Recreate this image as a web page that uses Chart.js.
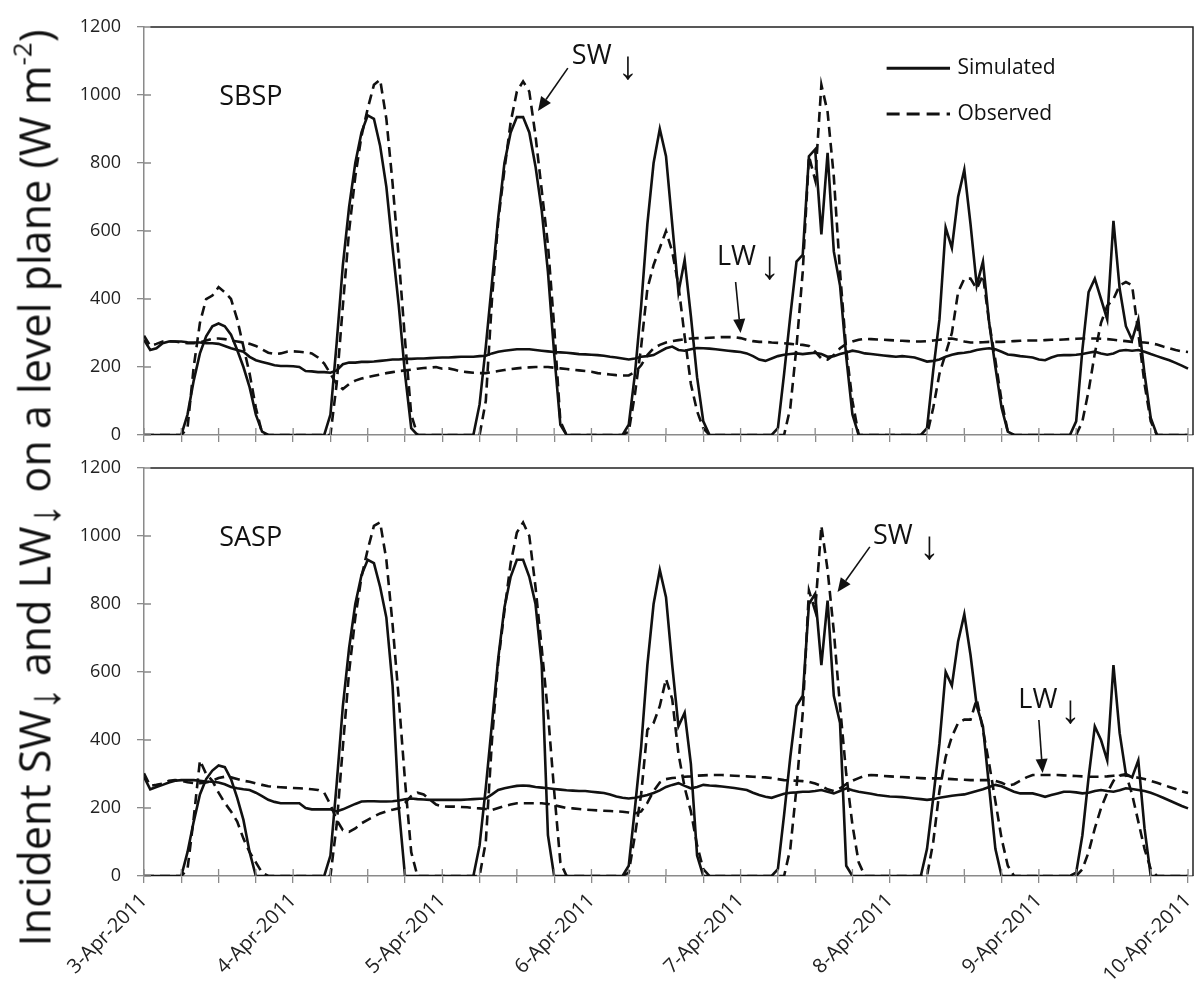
<!DOCTYPE html>
<html>
<head>
<meta charset="utf-8">
<script src="https://cdn.jsdelivr.net/npm/chart.js@4.4.1/dist/chart.umd.min.js"></script>
<style>
  html, body { margin: 0; padding: 0; background: #fff; }
  #wrap { position: relative; width: 1200px; height: 998px; overflow: hidden; }
  canvas { position: absolute; left: 0; }
  #ytitle { position: absolute; left: 34px; top: 488px; transform: translate(-50%, -50%) rotate(-90deg);
            white-space: nowrap; font-family: 'Open Sans', sans-serif; font-size: 43px; color: #111; line-height: 1; }
  #ytitle sub { font-family: 'Liberation Sans', sans-serif; font-size: 1.05em; vertical-align: -0.2em; line-height: 0; }
  #ytitle sup { font-size: 0.6em; vertical-align: 0.75em; line-height: 0; }
</style>
</head>
<body>
<div id="wrap">
  <canvas id="topChart" width="1200" height="443" style="top:0"></canvas>
  <canvas id="botChart" width="1200" height="550" style="top:448px"></canvas>
  <div id="ytitle">Incident SW<sub>↓</sub> and LW<sub>↓</sub> on a level plane (W m<sup>-2</sup>)</div>
</div>
<script>
//date labels, one per day (every 24 h on the x axis)
const dates = ['3-Apr-2011','4-Apr-2011','5-Apr-2011','6-Apr-2011','7-Apr-2011','8-Apr-2011','9-Apr-2011','10-Apr-2011'];

//------------------------------------------
//SBSP (top panel), hourly values from 3-Apr 00:00
const sbspSimSW = [
  0,0,0,0,0,0,0,60,160,240,290,320,328,320,295,250,200,140,60,10,0,0,0,0,
  0,0,0,0,0,0,60,270,500,670,800,890,940,930,850,730,550,380,180,20,0,0,0,0,
  0,0,0,0,0,0,90,260,450,640,800,890,935,935,890,790,660,480,240,30,0,0,0,0,
  0,0,0,0,0,0,30,180,380,620,800,900,820,620,420,515,350,170,40,0,0,0,0,0,
  0,0,0,0,0,0,20,180,350,510,530,820,840,590,830,540,440,230,60,0,0,0,0,0,
  0,0,0,0,0,0,20,190,340,610,550,700,780,620,440,510,330,200,80,10,0,0,0,0,
  0,0,0,0,0,0,40,250,420,460,400,340,630,430,320,280,340,180,50,0,0,0,0,0,0
];
const sbspObsSW = [
  0,0,0,0,0,0,0,20,200,330,400,410,435,420,400,340,260,180,80,5,0,0,0,0,
  0,0,0,0,0,0,0,150,380,600,760,880,960,1030,1045,930,740,520,280,60,0,0,0,0,
  0,0,0,0,0,0,0,100,400,630,780,920,1010,1040,1010,880,720,560,320,40,0,0,0,0,
  0,0,0,0,0,0,10,120,260,430,500,550,600,540,440,290,150,70,20,0,0,0,0,0,
  0,0,0,0,0,0,0,0,80,260,480,820,750,1030,950,760,480,250,100,0,0,0,0,0,
  0,0,0,0,0,0,0,80,180,240,300,420,460,460,430,470,330,220,100,10,0,0,0,0,
  0,0,0,0,0,0,0,40,130,240,330,380,400,440,450,440,300,150,40,0,0,0,0,0,0
];
const sbspSimLW = [
  280,250,255,270,275,275,275,273,272,272,270,270,268,262,255,250,245,230,220,215,210,205,203,203,
  202,200,188,187,185,185,183,190,208,213,213,215,215,216,218,220,222,222,224,224,225,225,226,227,
  228,228,229,230,230,230,232,233,240,245,248,250,252,252,252,250,248,246,244,243,242,240,238,237,
  236,235,233,230,228,225,222,225,230,232,235,245,255,260,250,248,252,256,255,254,252,250,248,246,
  244,240,232,222,218,225,232,236,238,240,238,240,242,238,230,232,238,243,248,245,240,238,236,234,
  232,230,232,230,228,222,216,218,222,230,236,240,242,245,250,253,255,252,245,237,235,232,230,228,
  222,220,228,234,235,235,236,238,242,245,240,236,240,248,250,248,250,245,238,232,226,220,212,204,195
];
const sbspObsLW = [
  292,262,268,275,276,275,272,270,270,272,278,283,284,282,278,275,272,268,262,252,242,238,240,245,
  246,245,243,240,228,210,180,150,135,150,160,166,170,174,178,182,185,188,190,192,195,197,198,200,
  195,196,192,187,185,183,182,182,185,188,191,194,196,198,199,200,200,200,198,196,194,192,190,188,
  186,182,180,178,176,175,175,185,205,235,255,265,272,276,279,282,284,285,285,286,287,288,288,288,
  285,280,276,274,274,272,271,270,268,266,265,262,245,225,222,235,255,268,275,280,283,282,281,280,
  279,278,277,276,275,275,276,278,280,283,284,280,275,272,272,273,274,274,274,275,276,277,278,278,
  278,279,280,280,281,282,283,284,284,284,283,282,280,278,276,274,273,272,270,266,260,255,250,246,244
];

//SASP (bottom panel)
const saspSimSW = [
  0,0,0,0,0,0,0,70,160,240,285,310,325,320,285,230,165,70,0,0,0,0,0,0,
  0,0,0,0,0,0,60,270,500,670,800,885,930,920,850,760,560,200,0,0,0,0,0,0,
  0,0,0,0,0,0,90,260,450,640,790,880,930,930,880,800,620,120,0,0,0,0,0,0,
  0,0,0,0,0,0,30,200,380,620,800,900,820,620,440,480,330,60,0,0,0,0,0,0,
  0,0,0,0,0,0,20,180,350,500,530,800,830,620,810,530,450,30,0,0,0,0,0,0,
  0,0,0,0,0,0,80,230,390,600,560,690,770,650,500,440,260,80,0,0,0,0,0,0,
  0,0,0,0,0,0,10,120,290,440,400,340,620,420,300,290,340,140,0,0,0,0,0,0,0
];
const saspObsSW = [
  0,0,0,0,0,0,0,20,170,340,300,280,245,215,190,160,110,70,40,10,0,0,0,0,
  0,0,0,0,0,0,0,150,380,600,760,880,960,1030,1040,930,740,520,280,70,0,0,0,0,
  0,0,0,0,0,0,0,100,400,630,780,920,1010,1040,1000,850,670,480,250,40,0,0,0,0,
  0,0,0,0,0,0,10,120,240,430,450,500,580,520,360,260,190,90,20,0,0,0,0,0,
  0,0,0,0,0,0,0,0,80,260,480,840,780,1030,900,720,500,300,150,40,0,0,0,0,
  0,0,0,0,0,0,0,100,250,350,410,450,460,460,520,430,330,220,110,30,0,0,0,0,
  0,0,0,0,0,0,0,20,70,140,200,245,280,295,300,240,160,80,20,0,0,0,0,0,0
];
const saspSimLW = [
  292,255,262,268,275,280,282,282,282,280,278,277,275,270,262,258,255,253,245,235,224,218,214,214,
  214,214,200,196,196,196,196,190,196,204,212,219,220,220,219,219,220,222,226,228,226,225,224,224,
  224,224,224,224,225,226,227,228,240,253,258,262,265,266,265,262,260,258,256,254,252,251,250,250,
  248,246,244,240,234,230,228,230,234,238,244,252,262,268,273,265,258,262,268,266,265,263,261,259,
  256,253,245,238,233,230,236,242,245,246,248,248,250,253,248,243,250,258,252,248,245,242,238,236,
  234,233,232,230,228,226,224,226,230,233,236,238,240,245,250,255,262,268,264,256,248,243,243,243,
  238,233,238,243,248,248,246,243,245,250,253,250,248,252,258,256,253,250,245,238,230,222,214,206,199
];
const saspObsLW = [
  302,265,268,272,280,282,280,276,273,273,275,280,288,292,290,285,280,277,272,268,264,262,261,260,
  259,258,257,255,253,245,210,165,135,130,140,155,165,175,184,190,195,199,215,235,245,240,225,210,
  205,204,204,203,202,200,199,197,194,200,206,210,214,214,214,214,214,212,208,204,200,199,197,195,
  194,193,192,191,190,189,187,184,190,215,250,275,285,288,290,292,293,295,296,297,297,297,296,295,
  294,293,292,291,290,288,285,282,281,280,279,277,272,265,255,250,258,270,280,288,295,297,296,294,
  293,292,291,290,289,288,287,287,287,286,285,284,283,282,282,282,282,280,274,266,270,280,290,297,
  297,297,297,297,296,295,294,293,292,292,292,293,295,297,296,292,289,285,280,274,268,262,256,249,244
];

//hour index (0 = 3-Apr 00:00)
const hours = sbspSimSW.map((v, i) => i);

//------------------------------------------
const FONT = "'Open Sans', sans-serif";
const INK = '#111';
const AXIS = '#8a8a8a';

function pts(vals) {
  return vals.map((v, i) => ({x: hours[i], y: v}));
}

function lines(simSW, obsSW, simLW, obsLW) {
  const solid = {borderColor: INK, borderWidth: 2.6, pointRadius: 0, fill: false, tension: 0};
  const dash = Object.assign({}, solid, {borderDash: [10, 6]});
  return [
    Object.assign({label: 'Simulated SW', data: pts(simSW)}, solid),
    Object.assign({label: 'Observed SW', data: pts(obsSW)}, dash),
    Object.assign({label: 'Simulated LW', data: pts(simLW)}, solid),
    Object.assign({label: 'Observed LW', data: pts(obsLW)}, dash)
  ];
}

//plugin for frame, inner tick halves, labels, arrows and the legend
const notes = {
  id: 'notes',
  afterDraw(chart, args, opts) {
    const {ctx, chartArea: a, scales: {x, y}} = chart;
    const px = h => x.getPixelForValue(h);
    const py = v => y.getPixelForValue(v);
    ctx.save();

    ctx.strokeStyle = '#222';
    ctx.lineWidth = 1.5;
    ctx.beginPath();
    ctx.moveTo(a.left + 6, a.top);
    ctx.lineTo(a.right, a.top);
    ctx.lineTo(a.right, a.bottom);
    ctx.stroke();

    ctx.strokeStyle = AXIS;
    ctx.lineWidth = 1.3;
    ctx.beginPath();
    y.ticks.forEach(t => { ctx.moveTo(a.left, py(t.value)); ctx.lineTo(a.left + 7, py(t.value)); });
    x.ticks.forEach(t => { ctx.moveTo(px(t.value), a.bottom); ctx.lineTo(px(t.value), a.bottom - 7); });
    ctx.stroke();

    ctx.fillStyle = INK;
    ctx.textBaseline = 'middle';
    ctx.textAlign = 'left';
    ctx.font = '27px ' + FONT;
    opts.labels.forEach(l => ctx.fillText(l.text, px(l.x), py(l.y)));

    ctx.textAlign = 'center';
    ctx.font = "40px 'Liberation Sans'";
    opts.downs.forEach(d => ctx.fillText('↓', px(d.x), py(d.y)));

    ctx.strokeStyle = INK;
    ctx.lineWidth = 1.6;
    opts.arrows.forEach(([h0, v0, h1, v1]) => {
      const x0 = px(h0), y0 = py(v0), x1 = px(h1), y1 = py(v1);
      const ang = Math.atan2(y1 - y0, x1 - x0);
      const len = 14, half = 6;
      const bx = x1 - len * Math.cos(ang), by = y1 - len * Math.sin(ang);
      ctx.beginPath();
      ctx.moveTo(x0, y0);
      ctx.lineTo(bx, by);
      ctx.stroke();
      ctx.beginPath();
      ctx.moveTo(x1, y1);
      ctx.lineTo(bx + half * Math.sin(ang), by - half * Math.cos(ang));
      ctx.lineTo(bx - half * Math.sin(ang), by + half * Math.cos(ang));
      ctx.closePath();
      ctx.fill();
    });

    if (opts.legend) {
      const lg = opts.legend;
      ctx.lineWidth = 3;
      ctx.beginPath();
      ctx.moveTo(px(lg.x0), py(lg.y0));
      ctx.lineTo(px(lg.x1), py(lg.y0));
      ctx.stroke();
      ctx.setLineDash([13, 7]);
      ctx.beginPath();
      ctx.moveTo(px(lg.x0), py(lg.y1));
      ctx.lineTo(px(lg.x1), py(lg.y1));
      ctx.stroke();
      ctx.setLineDash([]);
      ctx.textAlign = 'left';
      ctx.font = '21px ' + FONT;
      ctx.fillText('Simulated', px(lg.xt), py(lg.y0));
      ctx.fillText('Observed', px(lg.xt), py(lg.y1));
    }
    ctx.restore();
  }
};

function scales(showDates, xHeight) {
  return {
    x: {
      type: 'linear', min: 0, max: 168.8,
      border: {color: AXIS, width: 1.5},
      grid: {drawOnChartArea: false, tickLength: 7, color: AXIS, lineWidth: 1.3},
      ticks: {
        stepSize: 6, includeBounds: false, autoSkip: false, minRotation: 45, maxRotation: 45,
        padding: 6, color: '#222', font: {family: FONT, size: 20},
        callback: v => (showDates && v % 24 === 0) ? dates[v / 24] : ''
      },
      afterFit: s => { s.height = xHeight; s.paddingLeft = 0; s.paddingRight = 0; }
    },
    y: {
      min: 0, max: 1200,
      border: {color: AXIS, width: 1.5},
      grid: {drawOnChartArea: false, tickLength: 7, color: AXIS, lineWidth: 1.3},
      ticks: {stepSize: 200, padding: 16, color: '#222', font: {family: FONT, size: 18}, callback: v => String(v)},
      afterFit: s => { s.width = 74; s.paddingTop = 0; s.paddingBottom = 0; }
    }
  };
}

//------------------------------------------
//Configurations
const configTop = {
  type: 'line',
  data: {datasets: lines(sbspSimSW, sbspObsSW, sbspSimLW, sbspObsLW)},
  options: {
    responsive: false, animation: false, devicePixelRatio: 1,
    layout: {padding: {left: 70, right: 7, top: 27, bottom: 0}},
    scales: scales(false, 8),
    plugins: {
      legend: {display: false}, tooltip: {enabled: false},
      notes: {
        labels: [{text: 'SBSP', x: 12.1, y: 994}, {text: 'SW', x: 68.85, y: 1115}, {text: 'LW', x: 92.2, y: 524}],
        downs: [{x: 77.9, y: 1079}, {x: 100.7, y: 491}],
        arrows: [[68.2, 1079, 63.4, 953], [95.2, 450, 96.0, 300]],
        legend: {x0: 119.5, x1: 129.7, xt: 130.9, y0: 1079, y1: 944}
      }
    }
  },
  plugins: [notes]
};

const configBot = {
  type: 'line',
  data: {datasets: lines(saspSimSW, saspObsSW, saspSimLW, saspObsLW)},
  options: {
    responsive: false, animation: false, devicePixelRatio: 1,
    layout: {padding: {left: 70, right: 7, top: 20, bottom: 0}},
    scales: scales(true, 122),
    plugins: {
      legend: {display: false}, tooltip: {enabled: false},
      notes: {
        labels: [{text: 'SASP', x: 12.1, y: 994}, {text: 'SW', x: 117.3, y: 1000}, {text: 'LW', x: 140.7, y: 518}],
        downs: [{x: 126.4, y: 965}, {x: 149.1, y: 482}],
        arrows: [[116.8, 968, 111.6, 835], [144.0, 459, 144.6, 303]],
        legend: null
      }
    }
  },
  plugins: [notes]
};

//Render
const topChart = new Chart(document.getElementById('topChart'), configTop);
const botChart = new Chart(document.getElementById('botChart'), configBot);
</script>
</body>
</html>
